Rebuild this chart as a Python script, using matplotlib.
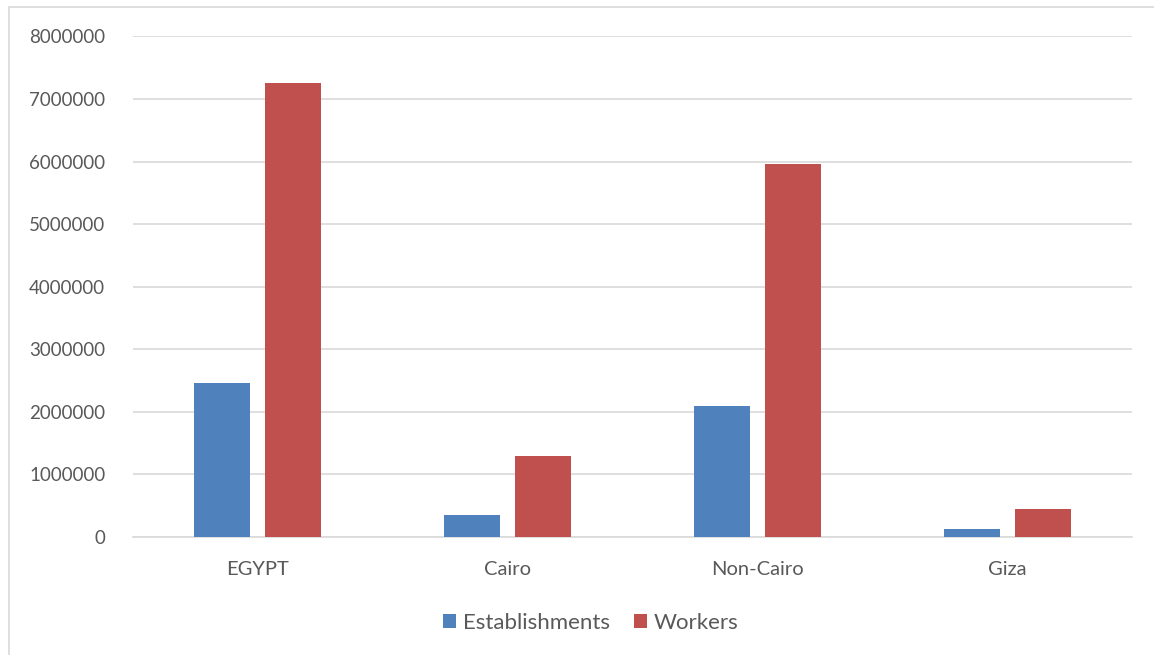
import numpy as np
import matplotlib.pyplot as plt
from matplotlib.patches import Rectangle

categories = ['EGYPT', 'Cairo', 'Non-Cairo', 'Giza']
establishments = [2455000, 358000, 2098000, 134000]
workers = [7260000, 1297000, 5968000, 443000]
series_names = ['Establishments', 'Workers']

blue = '#4F81BD'
red = '#C0504D'
text_color = '#595959'

plt.rcParams['font.family'] = ['Lato', 'DejaVu Sans']

fig = plt.figure(figsize=(11.54, 6.55), dpi=100)
ax = fig.add_axes([0.1153, 0.1802, 0.8657, 0.7641])

# chart frame like the office export
fig.patches.append(Rectangle((9 / 1154, -0.1), 1.2, 1 - 7 / 655 + 0.1, transform=fig.transFigure,
                             fill=False, edgecolor='#D9D9D9', linewidth=1.2, zorder=0))

x = np.arange(len(categories))
w = 0.224
off = 0.142
ax.bar(x - off, establishments, w, color=blue, label=series_names[0], zorder=3)
ax.bar(x + off, workers, w, color=red, label=series_names[1], zorder=3)

ax.set_xlim(-0.5, len(categories) - 0.5)
ax.set_ylim(0, 8000000)
ax.set_yticks(np.arange(0, 8000001, 1000000))
ax.set_yticklabels([str(v) for v in range(0, 8000001, 1000000)])
ax.set_xticks(x)
ax.set_xticklabels(categories)
ax.grid(axis='y', color='#D9D9D9', linewidth=1.2, zorder=0)
for s in ['top', 'right', 'left']:
    ax.spines[s].set_visible(False)
ax.spines['bottom'].set_color('#D9D9D9')
ax.spines['bottom'].set_linewidth(1.2)
ax.tick_params(axis='both', length=0, labelcolor=text_color)
ax.tick_params(axis='y', pad=20, labelsize=13.5)
ax.tick_params(axis='x', pad=17, labelsize=14.5)

ax.legend(loc='center', bbox_to_anchor=(0.458, -0.172), ncol=2, frameon=False,
          fontsize=16, labelcolor=text_color, handlelength=0.6, handleheight=0.6,
          handletextpad=0.3, columnspacing=1.1)

fig.savefig('out.png', dpi=100)
